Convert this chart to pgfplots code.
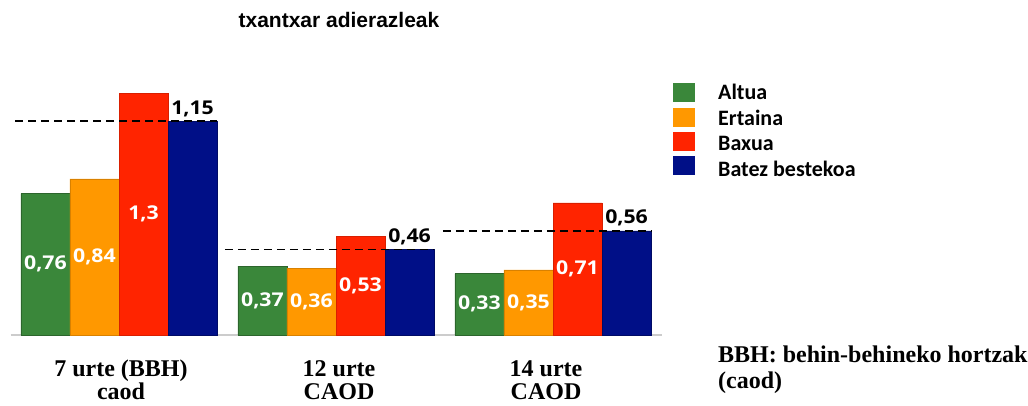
\documentclass[border=0pt]{standalone}
\usepackage{fontspec}
\usepackage{pgfplots}
\usepackage{pgfplotstable}
\pgfplotsset{compat=1.18}
\setmainfont{Liberation Serif}
\newfontfamily\titlefont{Liberation Sans}
\newfontfamily\legfont{Carlito}
\newfontfamily\valfont[FakeStretch=1.12]{Open Sans}

\definecolor{cgreen}{RGB}{58,135,58}
\definecolor{corange}{RGB}{255,152,0}
\definecolor{cred}{RGB}{255,36,0}
\definecolor{cblue}{RGB}{0,15,135}

% adina, Altua, Ertaina, Baxua, Batez bestekoa
\pgfplotstableread{
g altua ertaina baxua batez
0 0.76  0.84    1.30  1.15
1 0.37  0.36    0.53  0.46
2 0.33  0.35    0.71  0.56
}\datuak

\begin{document}
\begin{tikzpicture}
\useasboundingbox (0,0) rectangle (1028pt,406pt);
\begin{axis}[
    at={(10.5pt,71pt)}, anchor=south west,
    scale only axis,
    width=651pt, height=241.8pt,
    xmin=-0.5, xmax=2.5, ymin=0, ymax=1.3,
    axis x line*=bottom, axis y line=none,
    x axis line style={draw=black!20, line width=1.5pt},
    xtick=\empty, ytick=\empty,
    clip=false,
    bar width=0.2258,
    /pgf/number format/use comma,
    /pgf/number format/fixed,
    /pgf/number format/precision=2,
    /pgf/number format/assume math mode=true,
    inside/.style={
        nodes near coords,
        visualization depends on=y \as \rawy,
        every node near coord/.append style={anchor=center, inner sep=0pt,
            font=\valfont\bfseries\fontsize{19}{19}\selectfont, text=white,
            shift={(axis direction cs:0,{-0.5*\rawy})}}},
]
\addplot[ybar, bar shift=0pt, fill=cgreen, draw=cgreen!75!black, inside]
    table[x expr=\thisrow{g}-0.339, y=altua] {\datuak};
\addplot[ybar, bar shift=0pt, fill=corange, draw=corange!85!black, inside]
    table[x expr=\thisrow{g}-0.113, y=ertaina] {\datuak};
\addplot[ybar, bar shift=0pt, fill=cred, draw=cred!85!black, inside]
    table[x expr=\thisrow{g}+0.113, y=baxua] {\datuak};
\addplot[ybar, bar shift=0pt, fill=cblue, draw=cblue!75!black,
    nodes near coords,
    every node near coord/.append style={anchor=base, inner sep=0pt, yshift=7pt,
        font=\valfont\bfseries\fontsize{19}{19}\selectfont, text=black}]
    table[x expr=\thisrow{g}+0.339, y=batez] {\datuak};

% batez besteko marrak
\addplot[black, line width=1.6pt, dash pattern=on 8pt off 5pt] coordinates {(-0.479,1.15) (0.452,1.15)};
\addplot[black, line width=1.6pt, dash pattern=on 8pt off 5pt] coordinates {(0.488,0.46) (1.452,0.46)};
\addplot[black, line width=1.6pt, dash pattern=on 8pt off 5pt] coordinates {(1.493,0.56) (2.452,0.56)};
\end{axis}

\node[anchor=base, font=\titlefont\bfseries\fontsize{21}{25}\selectfont] at (339pt,378pt) {txantxar adierazleak};

% legenda
\fill[cgreen] (673pt,304pt) rectangle (695pt,323pt);
\fill[corange] (673pt,279pt) rectangle (695pt,298pt);
\fill[cred] (673pt,255pt) rectangle (695pt,274pt);
\fill[cblue] (673pt,231pt) rectangle (695pt,250pt);
\begin{scope}[every node/.style={anchor=base west, inner sep=0pt, font=\legfont\bfseries\fontsize{22}{22}\selectfont}]
\node at (718pt,306pt) {Altua};
\node at (718pt,280.5pt) {Ertaina};
\node at (718pt,255pt) {Baxua};
\node at (718pt,229.5pt) {Batez bestekoa};
\end{scope}

% azken lerroaren oinarria
\begin{scope}[every node/.style={anchor=base, align=center, inner sep=0pt, font=\bfseries\fontsize{24}{23.5}\selectfont}]
\node at (121pt,6pt) {7 urte (BBH)\\caod};
\node at (339pt,6pt) {12 urte\\CAOD};
\node at (546pt,6pt) {14 urte\\CAOD};
\end{scope}
\node[anchor=base west, align=left, inner sep=0pt, font=\bfseries\fontsize{24}{26}\selectfont] at (718pt,17pt) {BBH: behin-behineko hortzak\\(caod)};
\end{tikzpicture}
\end{document}
